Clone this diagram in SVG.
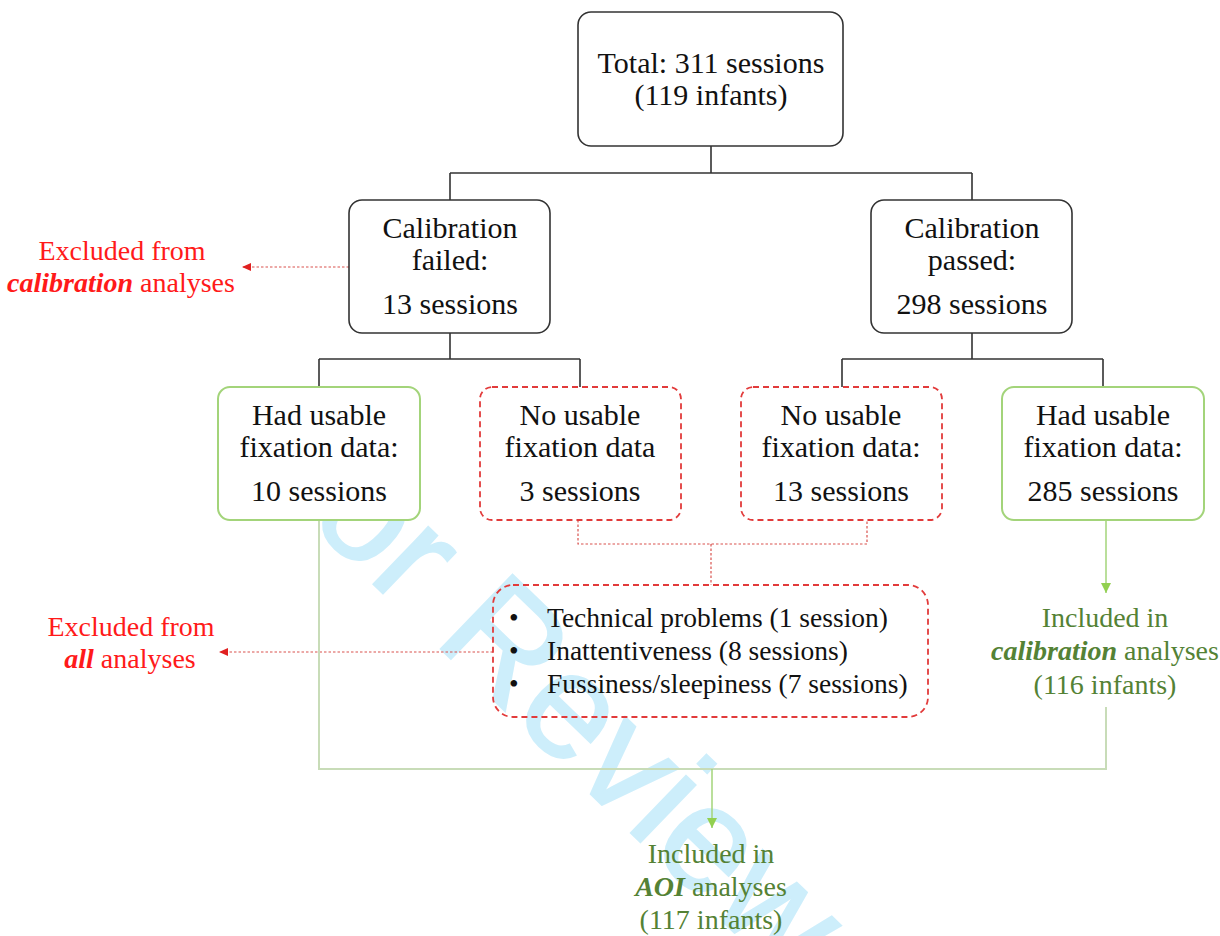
<svg xmlns="http://www.w3.org/2000/svg" width="1220" height="936" viewBox="0 0 1220 936">
<style>
.t{font-family:"Liberation Serif","Times New Roman",serif;font-size:30px;fill:#111;text-anchor:middle}
.b{font-family:"Liberation Serif","Times New Roman",serif;font-size:27.5px;fill:#111}
.red{font-family:"Liberation Serif","Times New Roman",serif;font-size:28px;fill:#ff1a1a;text-anchor:middle}
.grn{font-family:"Liberation Serif","Times New Roman",serif;font-size:28px;fill:#548235;text-anchor:middle}
.bi{font-weight:bold;font-style:italic}
.box{fill:#fff;stroke:#333;stroke-width:1.6}
.gbox{fill:#fff;stroke:#a3d47a;stroke-width:2}
.rbox{fill:#fff;stroke:#e23b3b;stroke-width:1.8;stroke-dasharray:6 4}
.blk{fill:none;stroke:#333;stroke-width:1.6}
.rdot{fill:none;stroke:#d9534f;stroke-width:1.2;stroke-dasharray:2.5 2}
.gl{fill:none;stroke:#c8dcb8;stroke-width:2}
.gl2{fill:none;stroke:#a3d47a;stroke-width:1.5}
.wm{font-family:"Liberation Sans",Arial,sans-serif;font-size:150px;fill:#cdeefb;stroke:#cdeefb;stroke-width:2}
</style>
<defs>
<marker id="ar" markerWidth="10" markerHeight="8" refX="9" refY="4" orient="auto" markerUnits="userSpaceOnUse">
<path d="M0,0 L9,4 L0,8 Z" fill="#e02020"/>
</marker>
<marker id="ag" markerWidth="12" markerHeight="10" refX="10" refY="5" orient="auto" markerUnits="userSpaceOnUse">
<path d="M0,0 L10,5 L0,10 Z" fill="#92d050"/>
</marker>
</defs>
<rect width="1220" height="936" fill="#fff"/>
<g id="watermark">
<text class="wm" transform="translate(306,519) rotate(44)">or Review</text>
</g>
<g id="connectors">
<path class="blk" d="M711,146 V173 M450,173 H972 M450,173 V200 M972,173 V200"/>
<path class="blk" d="M450,333 V359 M319,359 H580 M319,359 V387 M580,359 V387"/>
<path class="blk" d="M972,333 V359 M842,359 H1103 M842,359 V387 M1103,359 V387"/>
<path class="rdot" d="M578,520 V544 H867 V520 M711,544 V585"/>
<path class="rdot" d="M349,267 H242" marker-end="url(#ar)"/>
<path class="rdot" d="M493,652 H219" marker-end="url(#ar)"/>
<path class="gl" d="M319,520 V769 H1106 V707"/>
<path class="gl2" d="M1106,520 V593" marker-end="url(#ag)"/>
<path class="gl2" d="M712,769 V828" marker-end="url(#ag)"/>
</g>
<g id="n-total">
<rect class="box" x="578" y="12" width="265" height="134" rx="13"/>
<text class="t" x="711" y="73">Total: 311 sessions</text>
<text class="t" x="711" y="105">(119 infants)</text>
</g>
<g id="n-failed">
<rect class="box" x="349" y="200" width="201" height="133" rx="13"/>
<text class="t" x="450" y="238">Calibration</text>
<text class="t" x="450" y="270">failed:</text>
<text class="t" x="450" y="314">13 sessions</text>
</g>
<g id="n-passed">
<rect class="box" x="871" y="200" width="201" height="133" rx="13"/>
<text class="t" x="972" y="238">Calibration</text>
<text class="t" x="972" y="270">passed:</text>
<text class="t" x="972" y="314">298 sessions</text>
</g>
<g id="n-had10">
<rect class="gbox" x="218" y="387" width="202" height="133" rx="12"/>
<text class="t" x="319" y="425">Had usable</text>
<text class="t" x="319" y="457">fixation data:</text>
<text class="t" x="319" y="501">10 sessions</text>
</g>
<g id="n-no3">
<rect class="rbox" x="480" y="387" width="201" height="133" rx="12"/>
<text class="t" x="580" y="425">No usable</text>
<text class="t" x="580" y="457">fixation data</text>
<text class="t" x="580" y="501">3 sessions</text>
</g>
<g id="n-no13">
<rect class="rbox" x="741" y="387" width="201" height="133" rx="12"/>
<text class="t" x="841" y="425">No usable</text>
<text class="t" x="841" y="457">fixation data:</text>
<text class="t" x="841" y="501">13 sessions</text>
</g>
<g id="n-had285">
<rect class="gbox" x="1002" y="387" width="202" height="133" rx="12"/>
<text class="t" x="1103" y="425">Had usable</text>
<text class="t" x="1103" y="457">fixation data:</text>
<text class="t" x="1103" y="501">285 sessions</text>
</g>
<g id="n-reasons">
<rect class="rbox" x="493" y="585" width="435" height="132" rx="20" style="fill:none"/>
<text class="b" x="509" y="627">•</text>
<text class="b" x="547" y="627">Technical problems (1 session)</text>
<text class="b" x="509" y="660">•</text>
<text class="b" x="547" y="660">Inattentiveness (8 sessions)</text>
<text class="b" x="509" y="693">•</text>
<text class="b" x="547" y="693">Fussiness/sleepiness (7 sessions)</text>
</g>
<g id="n-excl-cal">
<text class="red" x="122" y="260">Excluded from</text>
<text class="red" x="121" y="292"><tspan class="bi">calibration</tspan> analyses</text>
</g>
<g id="n-excl-all">
<text class="red" x="131" y="636">Excluded from</text>
<text class="red" x="130" y="668"><tspan class="bi">all</tspan> analyses</text>
</g>
<g id="n-incl-cal">
<text class="grn" x="1105" y="627">Included in</text>
<text class="grn" x="1105" y="660"><tspan class="bi">calibration</tspan> analyses</text>
<text class="grn" x="1105" y="694">(116 infants)</text>
</g>
<g id="n-incl-aoi">
<text class="grn" x="711" y="863">Included in</text>
<text class="grn" x="711" y="896"><tspan class="bi">AOI</tspan> analyses</text>
<text class="grn" x="711" y="929">(117 infants)</text>
</g>
</svg>
